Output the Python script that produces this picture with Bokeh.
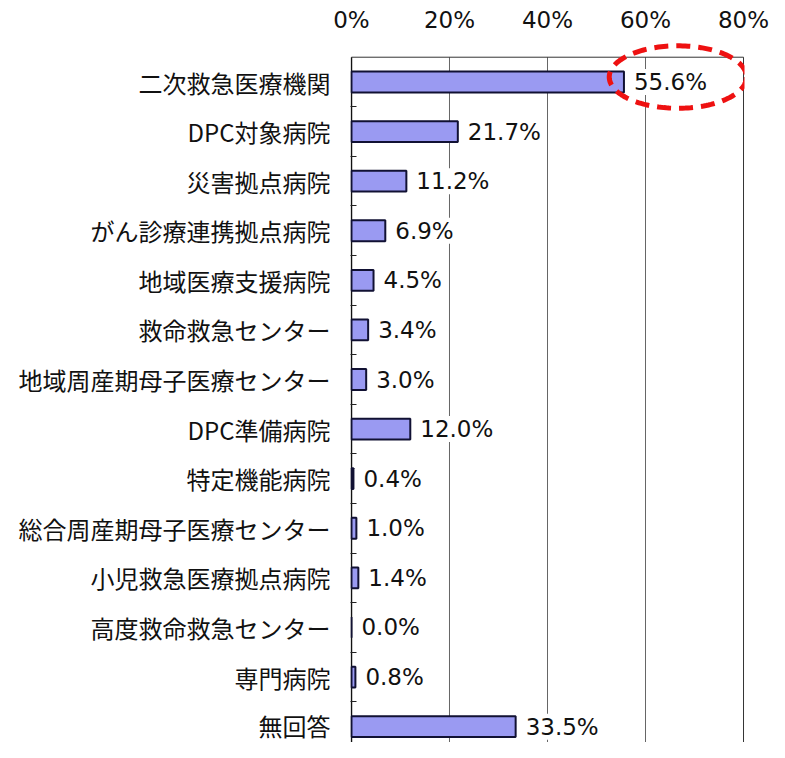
import numpy as np
from bokeh.plotting import figure
from bokeh.models import (ColumnDataSource, Range1d, FixedTicker, LabelSet, Label,
                          PolyAnnotation, CustomJSTickFormatter)
from bokeh.core.properties import value
from bokeh.embed import file_html
from bokeh.resources import INLINE

categories = ["二次救急医療機関", "DPC対象病院", "災害拠点病院", "がん診療連携拠点病院",
              "地域医療支援病院", "救命救急センター", "地域周産期母子医療センター",
              "DPC準備病院", "特定機能病院", "総合周産期母子医療センター",
              "小児救急医療拠点病院", "高度救命救急センター", "専門病院", "無回答"]
values = [55.6, 21.7, 11.2, 6.9, 4.5, 3.4, 3.0, 12.0, 0.4, 1.0, 1.4, 0.0, 0.8, 33.5]
x_ticks = [0, 20, 40, 60, 80]
grid_ticks = [20, 40, 60]
n_label = "（N=507）"

idx = list(range(len(categories)))
src = ColumnDataSource(dict(y=idx, right=values,
                            lab=[f"{v:.1f}%" for v in values]))

y_top = -0.5            # top of first category row (frame border)
y_end = 13.32
p = figure(width=769, height=742, output_backend="svg", toolbar_location=None,
           x_range=Range1d(-0.2, 80.2), y_range=Range1d(y_end, -0.837),
           x_axis_location="above", min_border_left=350, min_border_right=25,
           min_border_top=40, min_border_bottom=0)
p.background_fill_color = "white"
p.border_fill_color = "white"
p.outline_line_color = None
p.xgrid.grid_line_color = None
p.ygrid.grid_line_color = None

# frame lines and gridlines starting at the top of the first row
p.segment(x0=grid_ticks, x1=grid_ticks, y0=[y_top] * 3, y1=[y_end] * 3,
          line_color="#666666", line_width=1)
p.segment(x0=[0, 80], x1=[80, 80], y0=[y_top, y_top], y1=[y_top, y_end],
          line_color="#333333", line_width=1)
p.segment(x0=[0], x1=[0], y0=[y_top], y1=[y_end], line_color="#111111", line_width=1.5)

# x axis
xa = p.xaxis[0]
xa.ticker = FixedTicker(ticks=x_ticks)
xa.formatter = CustomJSTickFormatter(code="return tick + '%';")
xa.axis_line_color = None
xa.major_tick_line_color = None
xa.major_tick_out = 0
xa.minor_tick_line_color = None
xa.major_label_standoff = 8
xa.major_label_text_font = "DejaVu Sans"
xa.major_label_text_font_size = "23px"
xa.major_label_text_font_style = "normal"
xa.major_label_text_color = "#111111"

# y axis
ya = p.yaxis[0]
ya.ticker = FixedTicker(ticks=idx, minor_ticks=[i + 0.5 for i in idx[:-1]])
ya.major_label_overrides = {i: c for i, c in enumerate(categories)}
ya.major_tick_line_color = None
ya.major_tick_out = 0
ya.major_tick_in = 0
ya.minor_tick_in = 6
ya.minor_tick_out = 0
ya.minor_tick_line_color = "#222222"
ya.axis_line_color = None
ya.major_label_standoff = 20
ya.major_label_text_font = "Noto Sans CJK JP"
ya.major_label_text_font_size = "24px"
ya.major_label_text_color = "#111111"

p.hbar(y="y", left=0, right="right", height=0.42, source=src,
       fill_color="#9a9af2", line_color="#111133", line_width=2)

labels = LabelSet(x="right", y="y", text="lab", source=src, x_offset=10,
                  text_baseline="middle", text_align="left",
                  text_font=value("DejaVu Sans"), text_font_size="23px",
                  text_color="#111111", background_fill_color="white")
p.add_layout(labels)

p.add_layout(Label(x=-64.5, y=-1.25, text=n_label, text_font="Noto Sans CJK JP",
                   text_font_size="22px", text_baseline="middle", text_color="#111111"))

# red dashed ellipse around the top value
cx = values[0] + 11.0
cy = -0.1
t = np.linspace(0, 2 * np.pi, 160)
ell = PolyAnnotation(xs=list(cx + 14.0 * np.cos(t)), ys=list(cy + 0.63 * np.sin(t)),
                     fill_alpha=0, line_color="#ee1111", line_alpha=1.0, line_width=5,
                     line_dash="14 8")
p.add_layout(ell)

open("out.html", "w").write(file_html(p, INLINE))
